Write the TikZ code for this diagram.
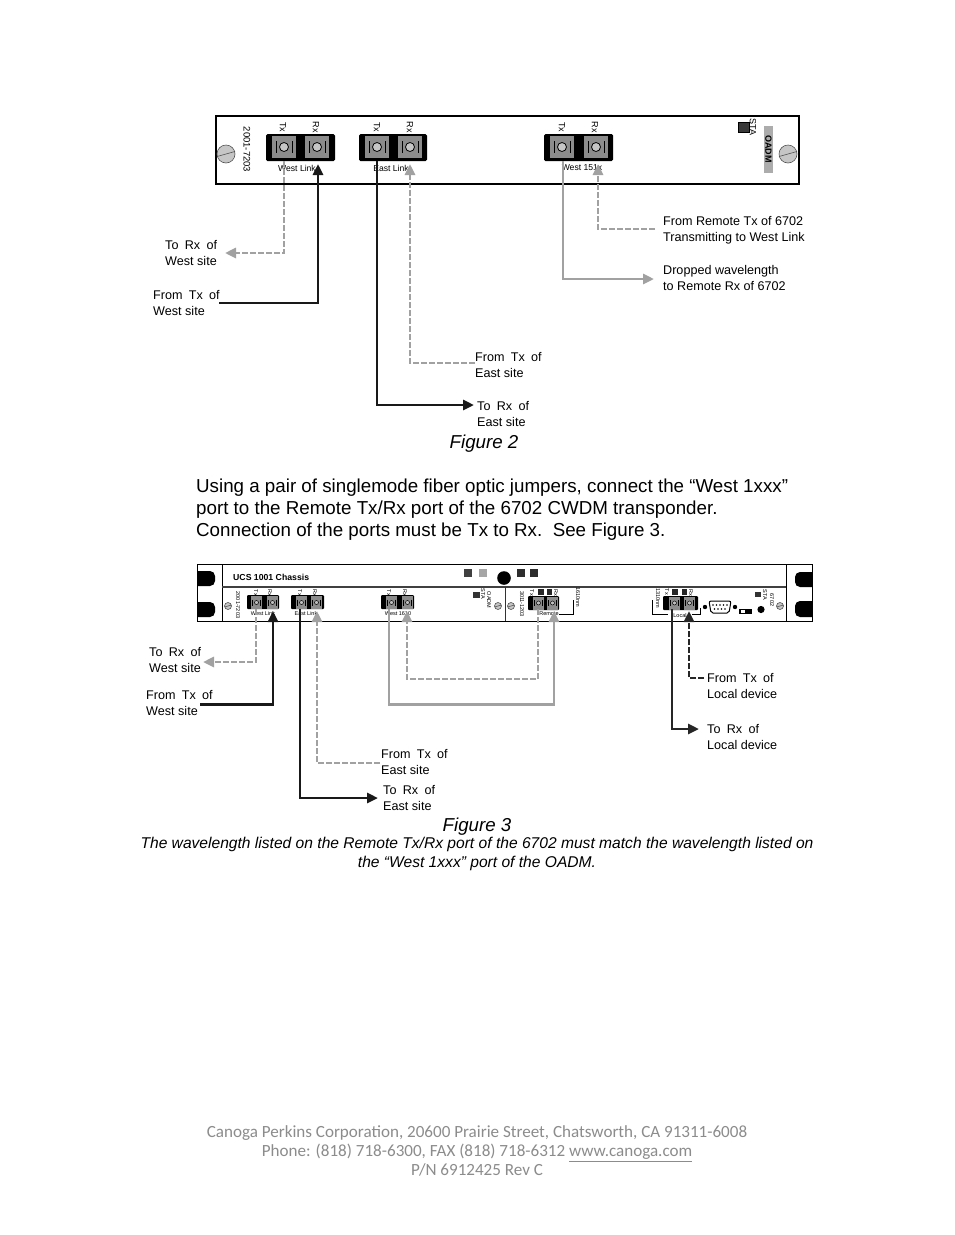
\documentclass[tikz,border=0pt]{standalone}
\usepackage{fontspec}
\setmainfont{Liberation Sans}
\newfontfamily\footfont{Carlito}
\usetikzlibrary{arrows.meta}
\definecolor{fibgrey}{gray}{0.63}
\definecolor{portgrey}{gray}{0.55}
\definecolor{inkdark}{gray}{0.1}
\definecolor{footgrey}{gray}{0.55}
\newcommand{\fs}[2]{\fontsize{#1}{#2}\selectfont}
\newcommand{\wg}{\hspace{6.3pt}}
\newcommand{\portA}[2]{% large connector: left square x, top y
  \fill[portgrey] (#1,#2) rectangle ++(24,22);
  \draw[black,line width=1pt] (#1+4,#2+5) -- ++(0,12) (#1+20,#2+5) -- ++(0,12);
  \draw[black,line width=0.8pt,fill=gray!45] (#1+12,#2+11) circle (4.5);
}
\newcommand{\portB}[2]{% small connector
  \fill[portgrey] (#1,#2) rectangle ++(11,13);
  \draw[black,line width=0.5pt,fill=gray!50] (#1+5.5,#2+6.5) circle (2);
  \draw[black,line width=0.5pt] (#1+1.5,#2+3.5) -- ++(0,6) (#1+9.5,#2+3.5) -- ++(0,6);
}
\newcommand{\screw}[3]{%
  \draw[gray!65!black,line width=0.6pt,fill=gray!45] (#1,#2) circle (#3);
  \draw[gray!65!black,line width=0.6pt] (#1-#3,#2+0.28*#3) -- (#1+#3,#2-0.28*#3);
}
\tikzset{
  x=1pt,y=-1pt,
  fibredash/.style={draw=fibgrey,line width=2.8pt,dash pattern=on 6pt off 2pt},
  fibregrey/.style={draw=fibgrey,line width=2.8pt},
  fibreblack/.style={draw=inkdark,line width=2.8pt},
  fibredark/.style={draw=gray!30!black,line width=2.8pt},
  fibredarkdash/.style={draw=gray!30!black,line width=2.8pt,dash pattern=on 6pt off 2pt},
  tipped/.style={-{Triangle[length=11pt,width=10pt]}},
  lab/.style={anchor=north west,align=left,inner sep=0pt,font=\fs{12.6}{16}},
  figcap/.style={anchor=center,inner sep=0pt,font=\fs{18.7}{22}\itshape},
  bodytext/.style={anchor=north west,align=left,inner sep=0pt,font=\fs{18.76}{22}},
  tinyrot/.style={inner sep=0pt,font=\fs{9}{10},rotate=-90},
  micro/.style={inner sep=0pt,font=\fs{5.5}{6}},
  microrot/.style={inner sep=0pt,font=\fs{5.5}{6},rotate=-90},
}
\begin{document}
\begin{tikzpicture}
\useasboundingbox (0,0) rectangle (954,1235);
\fill[white] (0,0) rectangle (954,1235);

%%% FIGURE 2
\draw[black,line width=1.6pt] (216,116) rectangle (799,184);
\screw{226}{154}{9}
\screw{788}{154}{9}
\fill[black,rounded corners=1.5pt] (266,134) rectangle (335,161);
\fill[black,rounded corners=1.5pt] (359,134) rectangle (427,161);
\fill[black,rounded corners=1.5pt] (544,134) rectangle (613,161);
\portA{272}{136}\portA{305}{136}
\portA{365}{136}\portA{398}{136}
\portA{550}{136}\portA{584}{136}
\fill[gray!45!black] (738,122) rectangle (749,132);
\draw[black,line width=0.4pt] (738,122) rectangle (749,132);
\fill[gray!65] (764,126) rectangle (773,173);
\node[tinyrot] (nSTA) at (753,127) {STA};
\node[tinyrot,font=\fs{9}{10}\bfseries] (nOADM) at (768.5,149) {OADM};
\node[tinyrot,font=\fs{9.5}{10}] (nPart) at (247,149.5) {2001-7203};
\node[tinyrot] (t1) at (283,127) {Tx};
\node[tinyrot] (r1) at (316,127) {Rx};
\node[tinyrot] (t2) at (377,127) {Tx};
\node[tinyrot] (r2) at (410,127) {Rx};
\node[tinyrot] (t3) at (562,127) {Tx};
\node[tinyrot] (r3) at (595,127) {Rx};
\node[inner sep=0pt,font=\fs{8.6}{10}] (wl) at (297,168) {West Link};
\node[inner sep=0pt,font=\fs{8.6}{10}] (el) at (391,168) {East Link};
\node[inner sep=0pt,font=\fs{8.6}{10}] (w151) at (582,168) {West 151x};

\node[lab] (a1) at (165,240.5) {To\wg{}Rx\wg{}of\\West site};
\node[lab] (a2) at (153,290.5) {From\wg{}Tx\wg{}of\\West site};
\node[lab] (a3) at (475,352.5) {From\wg{}Tx\wg{}of\\East site};
\node[lab] (a4) at (477,401.5) {To\wg{}Rx\wg{}of\\East site};
\node[lab] (a5) at (663,216.5) {From Remote Tx of 6702\\Transmitting to West Link};
\node[lab] (a6) at (663,265.5) {Dropped wavelength\\to Remote Rx of 6702};

\coordinate (p1) at (284,161); \coordinate (e1) at (225,253);
\coordinate (p2) at (318,164); \coordinate (e2) at (219,303);
\coordinate (p3) at (377,161); \coordinate (e3) at (474,405);
\coordinate (p4) at (410,164); \coordinate (e4) at (475,363);
\coordinate (p5) at (563,161); \coordinate (e5) at (654,279);
\coordinate (p6) at (598,164); \coordinate (e6) at (655,229);
\draw[fibredash,tipped] (p1) |- (e1);
\draw[fibreblack,tipped] (e2) -| (p2);
\draw[fibreblack,tipped] (p3) |- (e3);
\draw[fibredash,tipped] (e4) -| (p4);
\draw[fibregrey,tipped] (p5) |- (e5);
\draw[fibredash,tipped] (e6) -| (p6);

\node[figcap] (f2) at (484,444) {Figure 2};
\node[bodytext] (para) at (196,478.5) {Using a pair of singlemode fiber optic jumpers, connect the “West 1xxx”\\port to the Remote Tx/Rx port of the 6702 CWDM transponder.\\Connection of the ports must be Tx to Rx.\ \ See Figure 3.};

%%% FIGURE 3
\draw[black,line width=1pt] (197,564) rectangle (812,621);
\draw[black,line width=1pt] (222,564) -- (222,621);
\draw[black,line width=1pt] (786,564) -- (786,621);
\draw[gray!50!black,line width=1.4pt] (222,587) -- (786,587);
\draw[gray!40!black,line width=1pt] (505,587) -- (505,621);
\fill[black,rounded corners=5pt] (190,571) rectangle (215,586);
\fill[black,rounded corners=5pt] (190,602) rectangle (215,617);
\fill[white] (190,564) rectangle (196.5,621);
\fill[black,rounded corners=5pt] (795,572) rectangle (818,587);
\fill[black,rounded corners=5pt] (795,601) rectangle (818,617);
\fill[white] (812.5,564) rectangle (820,621);
\node[inner sep=0pt,anchor=west,font=\fs{8.7}{10}\bfseries] (chas) at (233,577) {UCS 1001 Chassis};
\fill[gray!50!black] (464,569) rectangle (472,577);
\fill[gray!70] (479,569) rectangle (487,577);
\fill[black] (504,578) circle (6.8);
\fill[gray!35!black] (517,569) rectangle (525,577);
\fill[gray!35!black] (530,569) rectangle (538,577);

\fill[black,rounded corners=1pt] (247,595) rectangle (279,609);
\fill[black,rounded corners=1pt] (291,595) rectangle (324,609);
\fill[black,rounded corners=1pt] (381,595) rectangle (414,609);
\fill[black,rounded corners=1pt] (528,596) rectangle (559,610);
\fill[black,rounded corners=1pt] (663,596) rectangle (698,610);
\portB{251}{596}\portB{267}{596}
\portB{296}{596}\portB{311}{596}
\portB{386}{596}\portB{402}{596}
\portB{533}{596.5}\portB{547}{596.5}
\portB{669}{596.5}\portB{684}{596.5}
\fill[gray!30!black] (538,589) rectangle (544,595);
\fill[gray!30!black] (547,589) rectangle (552,595);
\fill[gray!30!black] (672,589) rectangle (678,595);
\fill[gray!30!black] (682,589) rectangle (687,595);
\draw[black,line width=0.7pt] (559,614) -- (573,614) -- (573,600);
\draw[black,line width=0.7pt] (652,600) -- (652,614) -- (668,614);
\draw[black,line width=0.7pt] (692,614) -- (700,614) -- (700,608);
\fill[gray!40!black] (473,592) rectangle (480,598);
\fill[gray!40!black] (755,592) rectangle (761,597);

\screw{228}{606}{3.5}
\screw{498}{606}{3.5}
\screw{511}{606}{3.5}
\screw{780}{606}{3.5}

\node[microrot] (m1) at (238,605) {2001-7203};
\node[microrot] (m2) at (256,593) {Tx};
\node[microrot] (m3) at (270,593) {Rx};
\node[microrot] (m4) at (300,593) {Tx};
\node[microrot] (m5) at (315,593) {Rx};
\node[microrot] (m6) at (389,593) {Tx};
\node[microrot] (m7) at (405,593) {Rx};
\node[microrot] (m8) at (483,594) {STA};
\node[microrot] (m9) at (489,600) {OADM};
\node[microrot] (m10) at (522,604) {3011-1203};
\node[microrot] (m11) at (532,593) {Tx};
\node[microrot] (m12) at (556,593) {Rx};
\node[microrot] (m13) at (578,597) {1610nm};
\node[microrot] (m14) at (658,598) {1310nm};
\node[microrot] (m15) at (667,592) {Tx};
\node[microrot] (m16) at (691,593) {Rx};
\node[microrot] (m17) at (765,595) {STA};
\node[microrot] (m18) at (772,600) {6702};
\node[micro] (w1) at (263,614) {West Link};
\node[micro] (w2) at (306,614) {East Link};
\node[micro] (w3) at (398,614) {West 1610};
\node[micro] (w4) at (549,614) {Remote};
\node[micro] (w5) at (680,616) {Local};

% serial port and controls
\fill[black] (705,607) circle (2.2);
\fill[black] (735,607) circle (2.2);
\draw[black,line width=1pt,fill=white,rounded corners=2pt] (709,601) -- (731,601) -- (729,613) -- (711,613) -- cycle;
\foreach \i in {0,...,4} {\fill[black] (713+\i*3.5,605) circle (0.9);}
\foreach \i in {0,...,3} {\fill[black] (714.5+\i*3.5,609) circle (0.9);}
\fill[black] (739,608.5) rectangle (752,614);
\fill[white] (741,610) rectangle (745,612.5);
\fill[black] (761,609.5) circle (3.6);

\node[lab] (b1) at (149,647.5) {To\wg{}Rx\wg{}of\\West site};
\node[lab] (b2) at (146,690.5) {From\wg{}Tx\wg{}of\\West site};
\node[lab] (b3) at (381,749.5) {From\wg{}Tx\wg{}of\\East site};
\node[lab] (b4) at (383,785) {To\wg{}Rx\wg{}of\\East site};
\node[lab] (b5) at (707,673) {From\wg{}Tx\wg{}of\\Local device};
\node[lab] (b6) at (707,724) {To\wg{}Rx\wg{}of\\Local device};

\coordinate (q1) at (256,609); \coordinate (g1) at (203,662);
\coordinate (q2) at (273,611); \coordinate (g2) at (200,704.5);
\coordinate (q3) at (300,609); \coordinate (g3) at (378,798);
\coordinate (q4) at (317,611); \coordinate (g4) at (380,763);
\coordinate (q5) at (389,609); \coordinate (q6) at (554,611); \coordinate (k5) at (389,704.5); \coordinate (k6) at (554,704.5);
\coordinate (q7) at (407,611); \coordinate (q8) at (538,609); \coordinate (k7) at (407,679); \coordinate (k8) at (538,679);
\coordinate (q9) at (672,609); \coordinate (g9) at (699,729);
\coordinate (q10) at (689,611); \coordinate (g10) at (704,678);
\draw[fibredash,tipped] (q1) |- (g1);
\draw[fibreblack,tipped] (g2) -| (q2);
\draw[fibreblack,tipped] (q3) |- (g3);
\draw[fibredash,tipped] (g4) -| (q4);
\draw[fibregrey,tipped] (q5) -- (k5) -- (k6) -- (q6);
\draw[fibredash,tipped] (q8) -- (k8) -- (k7) -- (q7);
\draw[fibredark,tipped] (q9) |- (g9);
\draw[fibredarkdash,tipped] (g10) -| (q10);

\node[figcap] (f3) at (477,827) {Figure 3};
\node[anchor=center,align=center,inner sep=0pt,font=\fs{15.6}{18.5}\itshape] (note) at (477,854) {The wavelength listed on the Remote Tx/Rx port of the 6702 must match the wavelength listed on\\the “West 1xxx” port of the OADM.};

\node[anchor=center,align=center,inner sep=0pt,text=footgrey,font=\footfont\fs{17.07}{19.2}] (foot) at (477,1151) {Canoga Perkins Corporation, 20600 Prairie Street, Chatsworth, CA 91311-6008\\Phone: (818) 718-6300, FAX (818) 718-6312 \underline{www.canoga.com}\\P/N 6912425 Rev C};
\end{tikzpicture}
\end{document}
